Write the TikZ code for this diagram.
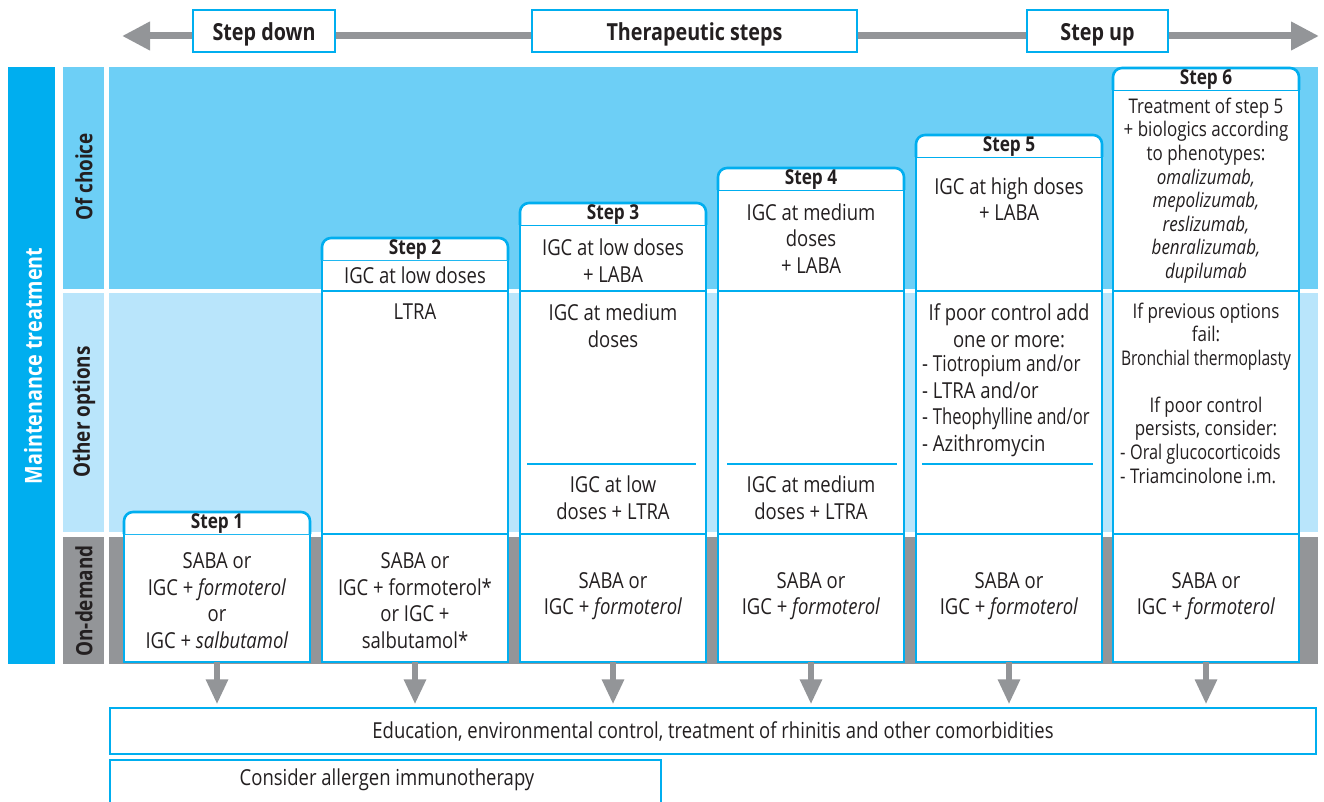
\documentclass[tikz,border=0pt]{standalone}
\usepackage{fontspec}
\setmainfont{Open Sans}[FakeStretch=0.84]
\usetikzlibrary{arrows.meta,backgrounds}
\definecolor{cyanD}{HTML}{00AEEF}
\definecolor{cyanM}{HTML}{6DCFF6}
\definecolor{cyanL}{HTML}{B9E5FB}
\definecolor{greyB}{HTML}{939598}
\definecolor{ink}{HTML}{231F20}
\newcommand\bodyfont{\fontsize{22}{26.6}\selectfont}
\newcommand\smallbody{\fontsize{20.2}{23.6}\selectfont}
\newcommand\narrowline[2]{\scalebox{#1}[1]{#2}}
\begin{document}
\begin{tikzpicture}[x=1pt,y=-1pt,
  cell/.style={draw=cyanD, line width=2.6pt, fill=white, inner sep=0pt, outer sep=0pt, minimum width=186pt},
  hdrline/.style={draw=cyanD, line width=2.6pt, fill=white, rounded corners=9pt},
  hdrtext/.style={font=\fontsize{20.5}{22}\selectfont\bfseries, text=ink, inner sep=0pt},
  txt/.style={font=\bodyfont, text=ink, align=center, inner sep=0pt},
  stxt/.style={font=\smallbody, text=ink, align=center, inner sep=0pt},
  topbox/.style={draw=cyanD, line width=2.6pt, fill=white, minimum height=42pt, inner sep=0pt,
    text height=23pt, text depth=3pt,
    font=\fontsize{23.5}{26}\selectfont\bfseries, text=ink},
  sidelabel/.style={rotate=90, font=\fontsize{22.5}{24}\selectfont\bfseries, text=ink, inner sep=0pt},
  toparrow/.style={draw=greyB, line width=7pt, -{Triangle[length=28pt,width=27pt]}},
  toplink/.style={draw=greyB, line width=7pt},
  dnarrow/.style={draw=greyB, line width=6pt, -{Triangle[length=25pt,width=21pt]}, shorten >=3pt},
  infobox/.style={draw=cyanD, line width=1.4pt, fill=white},
]
\useasboundingbox (0,0) rectangle (1324,802);

% background bands
\fill[cyanD] (8,67) rectangle (55,664);
\fill[cyanM] (63,67) rectangle (104,289);
\fill[cyanL] (63,293) rectangle (104,532);
\fill[greyB] (63,537) rectangle (104,664);
\fill[cyanM] (109,67) rectangle (1318,289);
\fill[cyanL] (109,293) rectangle (1318,532);
\fill[greyB] (109,537) rectangle (1318,664);

\node[rotate=90, font=\fontsize{23.5}{25}\selectfont\bfseries, text=white, inner sep=0pt] (mt) at (33,366) {Maintenance treatment};
\node[sidelabel] (lc) at (84,177) {Of choice};
\node[sidelabel] (lo) at (84,412) {Other options};
\node[sidelabel] (ld) at (84,601) {On-demand};

% top scale with step direction
\node[topbox, minimum width=142pt] (sd) at (264,31) {Step down};
\node[topbox, minimum width=325pt] (ts) at (694.5,31) {Therapeutic steps};
\node[topbox, minimum width=141pt] (su) at (1097.5,31) {Step up};
\coordinate (tl) at (122,36);
\coordinate (tr) at (1319,36);
\begin{scope}[on background layer]
  \draw[toparrow] (sd.west |- tl) -- (tl);
  \draw[toplink] (sd.east |- tl) -- (ts.west |- tl);
  \draw[toplink] (ts.east |- tl) -- (su.west |- tl);
  \draw[toparrow] (su.east |- tl) -- (tr);
\end{scope}

% ---------- Step 1 ----------
\node[cell, minimum height=128pt] (od1) at (217,598) {};
\draw[hdrline] (124,534) -- (124,512) -- (310,512) -- (310,534);
\node[hdrtext] (h1) at (217,523.5) {Step 1};
\node[txt] (t1d) at (217,600.5) {SABA or\\IGC + \textit{formoterol}\\or\\IGC + \textit{salbutamol}};

% ---------- Step 2 ----------
\node[cell, minimum height=31pt] (oc2) at (415,275.5) {};
\node[cell, minimum height=243pt] (oo2) at (415,412.5) {};
\node[cell, minimum height=128pt] (od2) at (415,598) {};
\draw[hdrline] (322,260) -- (322,238) -- (508,238) -- (508,260);
\node[hdrtext] (h2) at (415,249.5) {Step 2};
\node[txt] (t2c) at (415,275) {IGC at low doses};
\node[txt] (t2o) at (415,312) {LTRA};
\node[txt] (t2d) at (415,600.5) {SABA or\\IGC + formoterol*\\or IGC +\\salbutamol*};

% ---------- Step 3 ----------
\node[cell, minimum height=66pt] (oc3) at (613,258) {};
\node[cell, minimum height=243pt] (oo3) at (613,412.5) {};
\node[cell, minimum height=128pt] (od3) at (613,598) {};
\draw[hdrline] (520,225) -- (520,203) -- (706,203) -- (706,225);
\node[hdrtext] (h3) at (613,214.5) {Step 3};
\node[txt] (t3c) at (613,260.5) {IGC at low doses\\+ LABA};
\node[txt] (t3o) at (613,325.5) {IGC at medium\\doses};
\draw[draw=cyanD, line width=2.4pt] (527,464) -- (696,464);
\node[txt] (t3p) at (613,497.5) {IGC at low\\doses + LTRA};
\node[txt] (t3d) at (613,596) {SABA or\\IGC + \textit{formoterol}};

% ---------- Step 4 ----------
\node[cell, minimum height=101pt] (oc4) at (811,240.5) {};
\node[cell, minimum height=243pt] (oo4) at (811,412.5) {};
\node[cell, minimum height=128pt] (od4) at (811,598) {};
\draw[hdrline] (718,190) -- (718,168) -- (904,168) -- (904,190);
\node[hdrtext] (h4) at (811,179.5) {Step 4};
\node[txt] (t4c) at (811,238.5) {IGC at medium\\doses\\+ LABA};
\draw[draw=cyanD, line width=2.4pt] (727,464) -- (897,464);
\node[txt] (t4p) at (811,497.5) {IGC at medium\\doses + LTRA};
\node[txt] (t4d) at (811,596) {SABA or\\IGC + \textit{formoterol}};

% ---------- Step 5 ----------
\node[cell, minimum height=134pt] (oc5) at (1009,224) {};
\node[cell, minimum height=243pt] (oo5) at (1009,412.5) {};
\node[cell, minimum height=128pt] (od5) at (1009,598) {};
\draw[hdrline] (916,157) -- (916,135) -- (1102,135) -- (1102,157);
\node[hdrtext] (h5) at (1009,146.5) {Step 5};
\node[txt] (t5c) at (1009,199) {IGC at high doses\\+ LABA};
\node[txt] (t5o) at (1009,325.5) {If poor control add\\one or more:};
\node[txt, align=left, anchor=west] (t5l) at (922,405.8) {- \narrowline{0.93}{Tiotropium and/or}\\- LTRA and/or\\- \narrowline{0.9}{Theophylline and/or}\\- Azithromycin};
\draw[draw=cyanD, line width=2.4pt] (922,464) -- (1093,464);
\node[txt] (t5d) at (1009,596) {SABA or\\IGC + \textit{formoterol}};

% ---------- Step 6 ----------
\node[cell, minimum height=201pt] (oc6) at (1206,190.5) {};
\node[cell, minimum height=243pt] (oo6) at (1206,412.5) {};
\node[cell, minimum height=128pt] (od6) at (1206,598) {};
\draw[hdrline] (1113,90) -- (1113,68) -- (1299,68) -- (1299,90);
\node[hdrtext] (h6) at (1206,79.5) {Step 6};
\node[stxt] (t6c) at (1206,190.5) {Treatment of step 5\\+ biologics according\\to phenotypes:\\\textit{omalizumab,}\\\textit{mepolizumab,}\\\textit{reslizumab,}\\\textit{benralizumab,}\\\textit{dupilumab}};
\node[stxt] (t6o) at (1206,336.5) {If previous options\\fail:\\\narrowline{0.92}{Bronchial thermoplasty}};
\node[stxt] (t6p) at (1206,418.5) {If poor control\\persists, consider:};
\node[stxt, align=left, anchor=west] (t6l) at (1120,464) {- \narrowline{0.96}{Oral glucocorticoids}\\- Triamcinolone i.m.};
\node[txt] (t6d) at (1206,596) {SABA or\\IGC + \textit{formoterol}};

% ---------- common measures ----------
\node[infobox, minimum width=1206pt, minimum height=46pt, inner sep=0pt, font=\bodyfont, text=ink] (edu) at (713,731) {Education, environmental control, treatment of rhinitis and other comorbidities};
\draw[infobox] (110,808) -- (110,760) -- (661,760) -- (661,808);
\node[txt] (ait) at (387,780) {Consider allergen immunotherapy};

\foreach \s in {1,...,6} {
  \draw[dnarrow] (od\s.south) -- (od\s.south |- edu.north);
}
\end{tikzpicture}
\end{document}
